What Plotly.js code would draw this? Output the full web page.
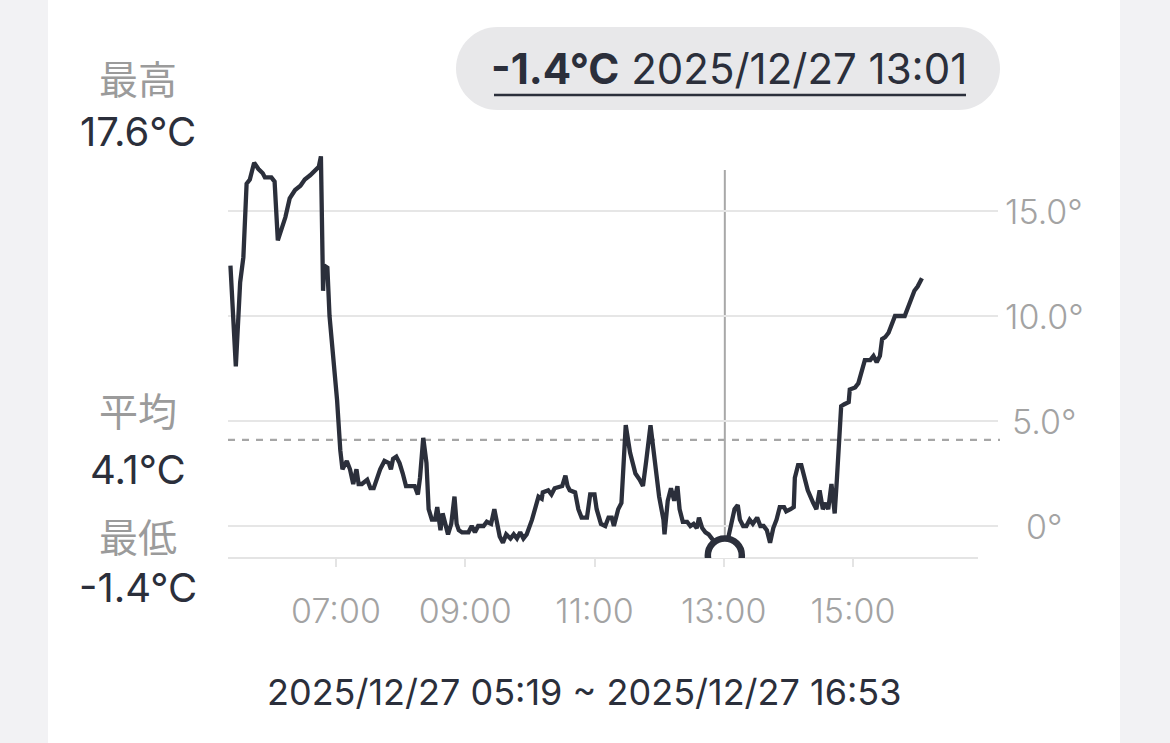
<!DOCTYPE html>
<html><head><meta charset="utf-8">
<script src="https://cdn.plot.ly/plotly-3.0.1.min.js"></script>
<style>
html,body{margin:0;padding:0;background:#f2f2f4;}
#wrap{position:relative;width:1170px;height:743px;overflow:hidden;}
#card{position:absolute;left:48px;top:0;width:1072px;height:743px;background:#ffffff;}
#chart{position:absolute;left:0;top:0;width:1170px;height:743px;}
</style></head><body>
<div id="wrap"><div id="card"></div><div id="chart"></div></div>
<script>
// ---------- data ----------
const DAY = "2025-12-27";
const times = [
"05:22","05:27","05:31","05:34","05:37","05:40","05:44","05:48","05:52","05:54",
"06:00","06:03","06:06","06:10","06:13","06:17","06:22","06:27","06:31","06:36",
"06:40","06:44","06:46","06:48","06:49","06:52","06:54","06:58","07:01","07:04",
"07:06","07:10","07:13","07:16","07:19","07:21","07:24","07:29","07:32","07:35",
"07:38","07:41","07:45","07:49","07:51","07:53","07:56","07:59","08:02","08:05",
"08:13","08:16","08:18","08:21","08:24","08:26","08:29","08:32","08:34","08:37",
"08:39","08:42","08:44","08:47","08:50","08:52","08:54","08:57","09:03","09:06",
"09:09","09:12","09:17","09:20","09:24","09:27","09:29","09:32","09:35","09:38",
"09:42","09:45","09:48","09:51","09:54","09:57","10:02","10:05","10:08","10:11",
"10:12","10:17","10:20","10:23","10:30","10:33","10:35","10:37","10:42","10:45",
"10:48","10:53","10:56","11:00","11:02","11:06","11:10","11:13","11:16","11:18",
"11:22","11:25","11:29","11:33","11:38","11:42","11:45","11:48","11:52","11:56",
"12:00","12:04","12:05","12:08","12:11","12:14","12:17","12:19","12:22","12:26",
"12:29","12:32","12:35","12:37","12:40","12:43","12:46","12:49","12:53","12:57",
"13:01","13:04","13:07","13:10","13:13","13:15","13:18","13:21","13:24","13:27",
"13:31","13:34","13:37","13:40","13:43","13:46","13:49","13:52","13:56","13:58",
"14:02","14:05","14:06","14:09","14:12","14:15","14:18","14:23","14:26","14:29",
"14:32","14:35","14:37","14:40","14:43","14:45","14:47","14:49","14:52","14:56",
"14:57","15:02","15:05","15:08","15:11","15:16","15:19","15:22","15:25","15:27",
"15:30","15:33","15:36","15:39","15:48","15:51","15:54","15:57","16:00","16:04"
];
const temps = [
12.4, 7.6,11.6,12.8,16.3,16.5,17.3,17.0,16.8,16.6,
16.6,16.4,13.6,14.3,14.7,15.6,16.0,16.2,16.5,16.7,
16.9,17.1,17.6,11.2,12.4,12.3,10.0, 7.9, 6.0, 3.6,
 2.7, 3.1, 2.7, 2.0, 2.7, 2.0, 2.0, 2.2, 1.8, 1.8,
 2.3, 2.7, 3.1, 3.0, 2.7, 3.2, 3.3, 3.0, 2.5, 1.9,
 1.9, 1.5, 2.3, 4.2, 3.0, 0.8, 0.3, 0.3, 0.9,-0.2,
 0.6, 0.0,-0.4, 0.1, 1.4, 0.1,-0.2,-0.3,-0.3, 0.0,
-0.3, 0.0, 0.0, 0.2, 0.1, 0.8, 0.3,-0.5,-0.8,-0.4,
-0.6,-0.4,-0.6,-0.3,-0.6,-0.4, 0.3, 0.8, 1.4, 1.3,
 1.6, 1.7, 1.5, 1.8, 1.9, 2.4, 1.9, 1.7, 1.6, 0.8,
 0.4, 0.4, 1.5, 1.5, 0.8, 0.1, 0.0, 0.4, 0.4, 0.0,
 0.8, 1.1, 4.8, 3.5, 2.5, 2.2, 1.9, 3.1, 4.8, 3.1,
 1.4, 0.3,-0.4, 1.2, 1.8, 1.2, 1.9, 0.8, 0.2, 0.2,
 0.0, 0.1,-0.1, 0.4,-0.1,-0.3,-0.4,-0.6,-0.9,-1.1,
-1.4,-0.6, 0.0, 0.8, 1.0, 0.3, 0.0, 0.0, 0.3, 0.1,
 0.4, 0.0, 0.0,-0.2,-0.8,-0.1, 0.3, 0.9, 0.9, 0.7,
 0.8, 0.9, 2.3, 2.9, 2.9, 2.3, 1.7, 1.1, 0.8, 1.7,
 0.8, 1.1, 0.8, 2.0, 0.6, 2.2, 4.2, 5.7, 5.8, 5.9,
 6.5, 6.6, 6.8, 7.3, 7.9, 7.9, 8.1, 7.8, 8.1, 8.9,
 9.0, 9.2, 9.6,10.0,10.0,10.4,10.8,11.2,11.4,11.8
];
const xTickVals = ["07:00","09:00","11:00","13:00","15:00"];
const xTickText = ["07:00","09:00","11:00","13:00","15:00"];
const yTickVals = [0, 5, 10, 15];
const yTickText = ["0°", "5.0°", "10.0°", "15.0°"];
const statNames = ["最高", "平均", "最低"];
const statValues = ["17.6°C", "4.1°C", "-1.4°C"];
const meanTemp = 4.1;
const cursorTime = "13:01";
const cursorTemp = -1.4;
const cursorLabelTemp = "-1.4°C";
const cursorLabelDate = "2025/12/27 13:01";
const rangeText = "2025/12/27 05:19 ~ 2025/12/27 16:53";
const xRange = ["05:19:44", "17:14:37"];
const yRange = [-1.524, 17.905];

// ---------- layout helpers ----------
const W = 1170, H = 743;
const L = 228, R = 998, T = 150, B = 558;
const px2x = p => (p - L) / (R - L);
const py2y = p => (B - p) / (B - T);
const FONT = "Inter, Roboto, 'Noto Sans', sans-serif";
const CJK = "'Noto Sans CJK JP', 'Noto Sans CJK SC', sans-serif";
const DARK = "#2b2f3b";
const GREY = "#a3a3a3";

function pillPath(x0, y0, x1, y1) {
  const r = (y1 - y0) / 2, k = 0.5523 * r, m = (y0 + y1) / 2;
  const P = (x, y) => px2x(x).toFixed(5) + "," + py2y(y).toFixed(5);
  return "M" + P(x0 + r, y0) + " L" + P(x1 - r, y0) +
    " C" + P(x1 - r + k, y0) + " " + P(x1, m - k) + " " + P(x1, m) +
    " C" + P(x1, m + k) + " " + P(x1 - r + k, y1) + " " + P(x1 - r, y1) +
    " L" + P(x0 + r, y1) +
    " C" + P(x0 + r - k, y1) + " " + P(x0, m + k) + " " + P(x0, m) +
    " C" + P(x0, m - k) + " " + P(x0 + r - k, y0) + " " + P(x0 + r, y0) + " Z";
}

const traces = [
  {
    x: times.map(t => DAY + " " + t),
    y: temps,
    type: "scatter", mode: "lines",
    line: {color: DARK, width: 4.3, shape: "linear"},
    hoverinfo: "skip"
  },
  {
    x: [DAY + " " + cursorTime],
    y: [cursorTemp],
    type: "scatter", mode: "markers",
    marker: {size: 34, color: "#ffffff", line: {color: DARK, width: 6.5}},
    cliponaxis: true,
    hoverinfo: "skip"
  }
];

const shapes = [
  {type: "path", xref: "paper", yref: "paper", path: pillPath(456, 27, 1000, 110),
   fillcolor: "#e8e8ea", line: {width: 0}, layer: "below"},
  {type: "line", xref: "paper", yref: "paper", x0: px2x(494), x1: px2x(966),
   y0: py2y(95), y1: py2y(95), line: {color: DARK, width: 2.5}},
  {type: "line", xref: "paper", yref: "paper", x0: 0, x1: px2x(978), y0: 0, y1: 0,
   line: {color: "#e4e4e4", width: 2}, layer: "between"},
  {type: "line", xref: "paper", yref: "y", x0: 0, x1: px2x(1000), y0: meanTemp, y1: meanTemp,
   line: {color: "#a6a6a6", width: 2.2, dash: "7px,7px"}, layer: "between"},
  {type: "line", xref: "x", yref: "paper", x0: DAY + " " + cursorTime, x1: DAY + " " + cursorTime,
   y0: 0, y1: py2y(170), line: {color: "#a8a8a8", width: 2}, layer: "between"}
];

const annotations = [];
yTickVals.forEach((v, i) => annotations.push({
  xref: "paper", yref: "y", x: px2x(1044), y: v, text: yTickText[i],
  showarrow: false, xanchor: "center", yanchor: "middle",
  font: {family: FONT, size: 34, color: GREY, weight: 300}
}));
const nameY = [77, 409, 535], valY = [132, 469, 587];
statNames.forEach((n, i) => {
  annotations.push({xref: "paper", yref: "paper", x: px2x(138), y: py2y(nameY[i]), text: n,
    showarrow: false, xanchor: "center", yanchor: "middle",
    font: {family: CJK, size: 39, color: "#9b9b9b"}});
  annotations.push({xref: "paper", yref: "paper", x: px2x(138), y: py2y(valY[i]), text: statValues[i],
    showarrow: false, xanchor: "center", yanchor: "middle",
    font: {family: FONT, size: 40, color: DARK}});
});
annotations.push({xref: "paper", yref: "paper", x: px2x(729), y: py2y(68),
  text: "<b>" + cursorLabelTemp + "</b> " + cursorLabelDate,
  showarrow: false, xanchor: "center", yanchor: "middle",
  font: {family: FONT, size: 42, color: DARK}});
annotations.push({xref: "paper", yref: "paper", x: px2x(584), y: py2y(692), text: rangeText,
  showarrow: false, xanchor: "center", yanchor: "middle",
  font: {family: FONT, size: 36, color: DARK}});

const layout = {
  width: W, height: H,
  margin: {l: L, r: W - R, t: T, b: H - B, pad: 0},
  paper_bgcolor: "rgba(0,0,0,0)", plot_bgcolor: "rgba(0,0,0,0)",
  showlegend: false,
  xaxis: {
    type: "date",
    range: xRange.map(t => DAY + " " + t),
    tickmode: "array",
    tickvals: xTickVals.map(t => DAY + " " + t),
    ticktext: xTickText,
    ticks: "outside", ticklen: 8, tickwidth: 2, tickcolor: "#e4e4e4",
    ticklabelstandoff: 15,
    tickfont: {family: FONT, size: 34, color: GREY, weight: 300},
    showgrid: false, zeroline: false, showline: false, fixedrange: true
  },
  yaxis: {
    range: yRange,
    tickmode: "array", tickvals: yTickVals,
    showticklabels: false, ticks: "",
    showgrid: true, gridcolor: "#e6e6e6", gridwidth: 2,
    zeroline: false, showline: false, fixedrange: true
  },
  shapes: shapes,
  annotations: annotations
};

Plotly.newPlot("chart", traces, layout, {displayModeBar: false, staticPlot: true});
</script>
</body></html>
